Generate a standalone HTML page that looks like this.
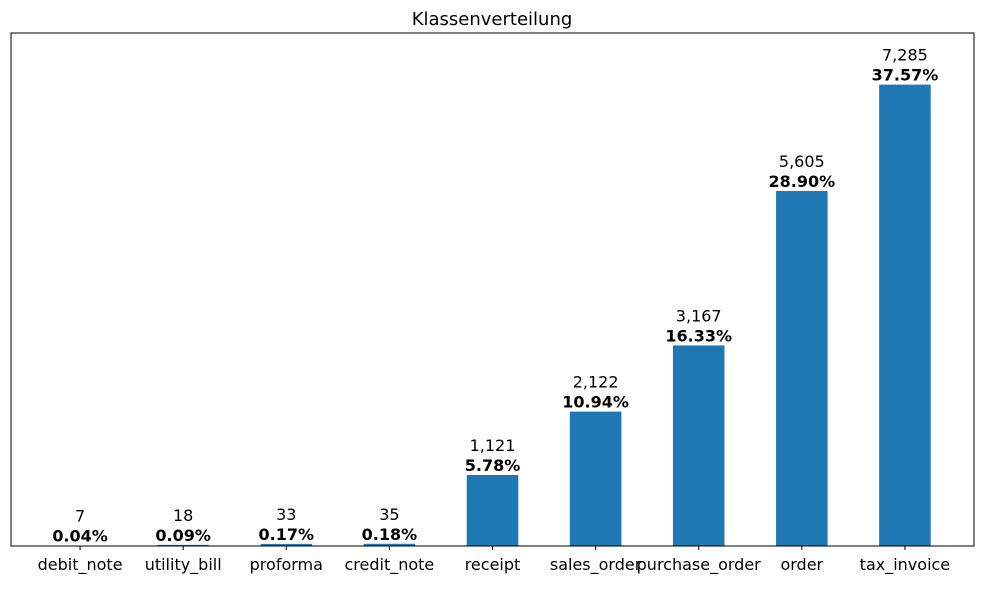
<!DOCTYPE html>
<html><head><meta charset="utf-8"><style>
body{margin:0;background:#fff;}
svg text{font-family:"DejaVu Sans","Liberation Sans",sans-serif;}
</style></head><body>
<svg id="chart" width="984" height="584" viewBox="0 0 984 584" xmlns="http://www.w3.org/2000/svg">
<text x="492" y="25" font-size="18" text-anchor="middle" fill="#000">Klassenverteilung</text>
<g id="plot"></g>
<rect x="11" y="33" width="963" height="513" fill="none" stroke="#000" stroke-width="1"/>
</svg>
<script>
const categories=["debit_note","utility_bill","proforma","credit_note","receipt","sales_order","purchase_order","order","tax_invoice"];
const counts=[7,18,33,35,1121,2122,3167,5605,7285];
const percents=["0.04%","0.09%","0.17%","0.18%","5.78%","10.94%","16.33%","28.90%","37.57%"];
const countLabels=["7","18","33","35","1,121","2,122","3,167","5,605","7,285"];
const L=11,R=974,T=33,B=546,xmin=-0.67,xmax=8.67,ymax=8100;
const xs=v=>L+(v-xmin)/(xmax-xmin)*(R-L);
const ys=v=>B-v/ymax*(B-T);
const g=document.getElementById('plot');
const NS="http://www.w3.org/2000/svg";
function mk(t,a){const e=document.createElementNS(NS,t);for(const k in a)e.setAttribute(k,a[k]);return e;}
const bw=xs(0.5)-xs(0);
categories.forEach((c,i)=>{
  const cx=xs(i),top=ys(counts[i]);
  const r=mk('rect',{x:cx-bw/2,y:top,width:bw,height:B-top,fill:'#1f77b4'});
  
  
  g.appendChild(r);
  const t1=mk('text',{x:cx,y:top-24,'font-size':16,'text-anchor':'middle',fill:'#000'});
  t1.textContent=countLabels[i];
  
  
  g.appendChild(t1);
  const t2=mk('text',{x:cx,y:top-4,'font-size':16,'font-weight':'bold','text-anchor':'middle',fill:'#000'});
  t2.textContent=percents[i];
  
  
  g.appendChild(t2);
  const tk=mk('line',{x1:cx,x2:cx,y1:B,y2:B+4,stroke:'#000'});
  
  
  g.appendChild(tk);
  const xl=mk('text',{x:cx,y:B+24,'font-size':16,'text-anchor':'middle',fill:'#000'});
  xl.textContent=c;
  
  
  g.appendChild(xl);
});
</script>
</body></html>
